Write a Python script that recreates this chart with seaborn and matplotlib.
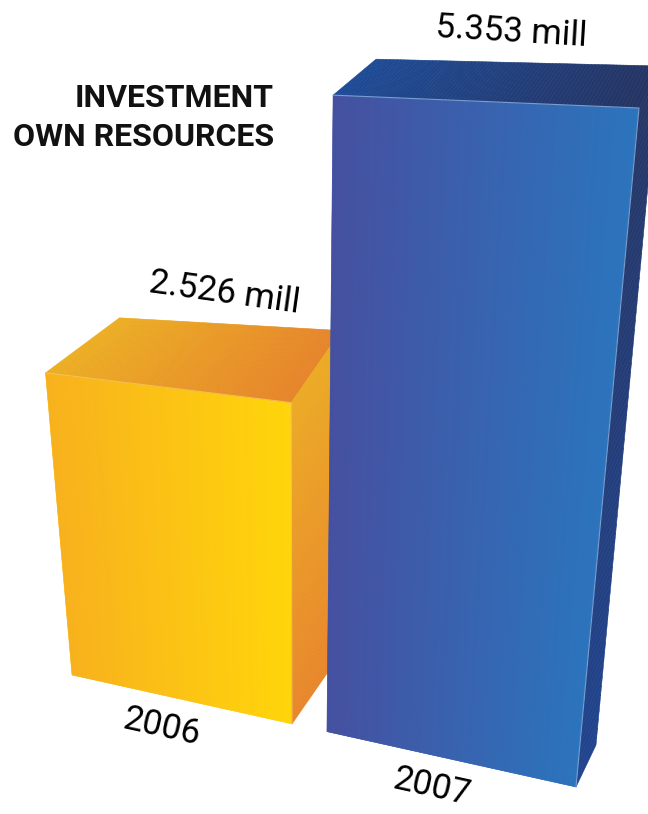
import numpy as np
import pandas as pd
import matplotlib
matplotlib.use("Agg")
import matplotlib.pyplot as plt
import matplotlib.transforms as mtransforms
from matplotlib.collections import PolyCollection
from matplotlib.colors import to_rgb
import seaborn as sns

# ---------------- data ----------------
years = ["2006", "2007"]
values = [2.526, 5.353]                      # million
value_labels = ["2.526 mill", "5.353 mill"]
title_lines = ["INVESTMENT", "OWN RESOURCES"]

# ---------------- style ----------------
W, H, DPI = 648, 814, 100
BAR_WIDTH = 0.87
front_left = ["#F8B11E", "#4650A0"]
front_right = ["#FFD50B", "#2C74BD"]
top_left = ["#ECAE22", "#1E4B96"]
top_right = ["#E6842A", "#253463"]
side_top = ["#ECAA24", "#263766"]
side_bottom = ["#E8862A", "#21448E"]
edge_light = ["#F6C85A", "#8DB4E2"]
# receding (depth) offsets in pixels at the left / right edge of each bar
depth_left = [(74, -55), (43, -36)]
depth_right = [(50, -72), (20, -42)]
# camera: where the plotting frame (first..last bar edge, 0..max value) lands
P00, P10, P11, P01 = (72, 675), (576, 787), (639, 108), (20, 82)
QH, QV = 1.123, 0.86
FONT = ["Roboto", "DejaVu Sans"]

n = len(values)
X0, X1 = -BAR_WIDTH / 2, (n - 1) + BAR_WIDTH / 2
VMAX = max(values)


def to_pixel(x, v):
    x = np.asarray(x, float)
    v = np.asarray(v, float)
    s = (x - X0) / (X1 - X0)
    t = v / VMAX
    s = s / (s + QH * (1 - s))
    t = t / (t + QV * (1 - t))
    p00, p10, p11, p01 = (np.array(p, float) for p in (P00, P10, P11, P01))
    if s.ndim:
        bottom = p00[:, None] * (1 - s) + p10[:, None] * s
        top = p01[:, None] * (1 - s) + p11[:, None] * s
    else:
        bottom = p00 * (1 - s) + p10 * s
        top = p01 * (1 - s) + p11 * s
    return bottom * (1 - t) + top * t


class Perspective(mtransforms.Transform):
    input_dims = output_dims = 2
    is_separable = False
    has_inverse = False

    def transform_non_affine(self, values):
        values = np.asarray(values, float).reshape(-1, 2)
        pts = to_pixel(values[:, 0], values[:, 1])
        return np.column_stack([pts[0], pts[1]])


def px(x, v):
    return np.asarray(to_pixel(float(x), float(v)), float)


def lerp(a, b, f):
    return np.asarray(a) * (1 - f) + np.asarray(b) * f


def gradient_quad(ax, a, b, c, d, c0, c1, along="s", nstep=80, z=1):
    """a(s0,t0) b(s1,t0) c(s1,t1) d(s0,t1)"""
    c0, c1 = np.array(to_rgb(c0)), np.array(to_rgb(c1))
    polys, cols = [], []
    for i in range(nstep):
        f0, f1 = i / nstep, (i + 1) / nstep
        if along == "s":
            poly = [lerp(a, b, f0), lerp(a, b, f1), lerp(d, c, f1), lerp(d, c, f0)]
        else:
            poly = [lerp(a, d, f0), lerp(b, c, f0), lerp(b, c, f1), lerp(a, d, f1)]
        polys.append(poly)
        cols.append(lerp(c0, c1, (f0 + f1) / 2))
    pc = PolyCollection(polys, facecolors=cols, edgecolors=cols, linewidths=0.4,
                        zorder=z, antialiased=True)
    ax.add_collection(pc)


sns.set_theme(style="white")
plt.rcParams["font.family"] = FONT

fig = plt.figure(figsize=(W / DPI, H / DPI), dpi=DPI)
ax = fig.add_axes([0, 0, 1, 1])
df = pd.DataFrame({"year": years, "value": values})
sns.barplot(data=df, x="year", y="value", hue="year", palette=front_right,
            width=BAR_WIDTH, errorbar=None, saturation=1, legend=False, ax=ax)

ax.set_xlim(0, W)
ax.set_ylim(H, 0)
ax.axis("off")

persp = Perspective()
bars = sorted(ax.patches, key=lambda p: p.get_x())
for i, p in enumerate(bars):
    x0, w, h = p.get_x(), p.get_width(), p.get_height()
    z = 2 + 2 * i
    p.set_transform(persp + ax.transData)
    p.set_zorder(z)
    p.set_edgecolor("none")
    dl, dr = np.array(depth_left[i], float), np.array(depth_right[i], float)
    FL0, FR0 = px(x0, 0), px(x0 + w, 0)
    FL1, FR1 = px(x0, h), px(x0 + w, h)
    # front face
    gradient_quad(ax, FL0, FR0, FR1, FL1, front_left[i], front_right[i], "s", z=z + 0.1)
    # top face
    gradient_quad(ax, FL1, FR1, FR1 + dr, FL1 + dl, top_left[i], top_right[i], "s", z=z + 0.1)
    # side face (vertical gradient bottom -> top)
    gradient_quad(ax, FR0, FR0 + dr, FR1 + dr, FR1, side_bottom[i], side_top[i], "t", z=z + 0.1)
    # light edges
    ax.plot([FL1[0], FR1[0], FR0[0]], [FL1[1], FR1[1], FR0[1]], color=edge_light[i],
            lw=0.8, alpha=0.8, zorder=z + 0.2, solid_joinstyle="miter")

    # value label above the top face
    back_mid = ((FL1 + dl) + (FR1 + dr)) / 2
    rot_top = -np.degrees(np.arctan2(FR1[1] - FL1[1], FR1[0] - FL1[0]))
    ax.text(back_mid[0] - 6, back_mid[1] - 31, value_labels[i], ha="center", va="center",
            rotation=rot_top - 1, rotation_mode="anchor", fontsize=25,
            fontweight="normal", color="black", zorder=10)
    # year label under the bar
    bot_mid = (FL0 + FR0) / 2
    rot_bot = -np.degrees(np.arctan2(FR0[1] - FL0[1], FR0[0] - FL0[0]))
    ax.text(bot_mid[0] - 20, bot_mid[1] + 28, years[i], ha="center", va="center",
            rotation=rot_bot, rotation_mode="anchor", fontsize=25,
            fontweight="normal", color="black", zorder=10)

ax.text(274, 107, title_lines[0], ha="right", va="baseline", fontsize=23,
        fontweight="bold", color="#111111", zorder=10)
ax.text(274, 146, title_lines[1], ha="right", va="baseline", fontsize=23,
        fontweight="bold", color="#111111", zorder=10)

fig.savefig("out.png", dpi=DPI, facecolor="white")
